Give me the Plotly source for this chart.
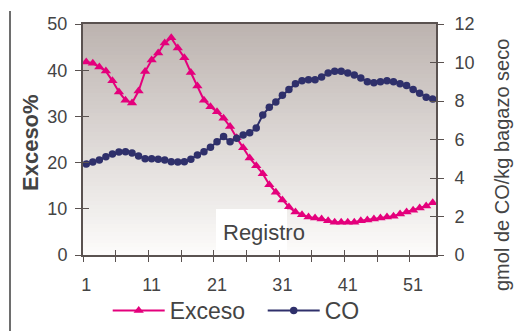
import plotly.graph_objects as go
import numpy as np

# ---------------- data ----------------
registro = list(range(1, 55))
exceso = [41.8, 41.5, 40.7, 39.8, 37.7, 35.3, 33.5, 32.9, 35.5, 39.7,
          42.2, 43.7, 45.9, 47.0, 44.8, 42.7, 39.5, 36.6, 33.5, 32.1,
          31.0, 29.6, 27.8, 25.4, 23.2, 21.0, 19.3, 17.6, 15.2, 13.6,
          11.9, 10.4, 9.3, 8.7, 8.2, 8.0, 7.8, 7.4, 7.1, 7.1,
          7.1, 7.1, 7.4, 7.6, 7.8, 8.0, 8.2, 8.4, 8.9, 9.3,
          9.7, 10.2, 10.6, 11.3]
co = [4.73, 4.83, 4.94, 5.10, 5.25, 5.35, 5.37, 5.30, 5.14, 5.00,
      5.00, 4.98, 4.94, 4.85, 4.83, 4.85, 4.98, 5.20, 5.37, 5.60,
      5.88, 6.15, 5.88, 6.07, 6.23, 6.35, 6.60, 7.27, 7.68, 7.95,
      8.30, 8.60, 8.90, 9.05, 9.10, 9.10, 9.25, 9.45, 9.55, 9.55,
      9.45, 9.35, 9.20, 9.00, 8.95, 9.00, 9.05, 9.00, 8.90, 8.80,
      8.60, 8.40, 8.20, 8.10]
x_tick_labels = [1, 11, 21, 31, 41, 51]
y_left_ticks = [0, 10, 20, 30, 40, 50]
y_right_ticks = [0, 2, 4, 6, 8, 10, 12]

# ---------------- styling ----------------
FONT = "Liberation Sans, Arial, sans-serif"
TXT = "#444444"
AX = "#5a5250"
MAG = "#E4007C"
NAVY = "#2F306B"

x_range = [0.5, len(registro) + 0.5]
sep_ticks = [0.5 + 5 * k for k in range(int(len(registro) / 5) + 1)]

fig = go.Figure()

# background gradient (drawn as a heatmap behind the data)
n = 60
y_edges = np.linspace(0, 50, n + 1)
top = np.array([189, 180, 176])
bot = np.array([252, 251, 250])
fig.add_trace(go.Heatmap(
    x=x_range, y=y_edges, z=[[i] for i in range(n)],
    colorscale=[[0, "rgb(%d,%d,%d)" % tuple(bot)], [1, "rgb(%d,%d,%d)" % tuple(top)]],
    showscale=False, hoverinfo="skip", zsmooth=False,
    xaxis="x", yaxis="y"))

fig.add_trace(go.Scatter(
    x=registro, y=exceso, name="Exceso", mode="lines+markers",
    line=dict(color=MAG, width=2),
    marker=dict(symbol="triangle-up", size=9, color=MAG),
    xaxis="x", yaxis="y"))

fig.add_trace(go.Scatter(
    x=registro, y=co, name="CO", mode="lines+markers",
    line=dict(color=NAVY, width=2),
    marker=dict(symbol="circle", size=7.5, color=NAVY),
    xaxis="x", yaxis="y2"))

# empty helpers so overlay axes (inside halves of crossing ticks) exist
fig.add_trace(go.Scatter(x=[None], y=[None], xaxis="x2", yaxis="y3",
                         showlegend=False, hoverinfo="skip"))
fig.add_trace(go.Scatter(x=[None], y=[None], xaxis="x", yaxis="y4",
                         showlegend=False, hoverinfo="skip"))

tickfont = dict(family=FONT, size=18, color=TXT)

fig.update_layout(
    width=515, height=331,
    margin=dict(l=83, r=79, t=24, b=76, autoexpand=False),
    paper_bgcolor="white", plot_bgcolor="white",
    font=dict(family=FONT, color=TXT),
    showlegend=True,
    legend=dict(orientation="h", x=0.07, xanchor="left", y=-0.24, yanchor="middle",
                font=dict(family=FONT, size=23, color=TXT), itemwidth=52,
                entrywidth=88, entrywidthmode="pixels",
                bgcolor="rgba(0,0,0,0)"),
    xaxis=dict(range=x_range, tickmode="array", tickvals=x_tick_labels,
               ticktext=[str(v) for v in x_tick_labels], ticks="",
               showline=True, linecolor=AX, linewidth=2, mirror=True,
               showgrid=False, zeroline=False, tickfont=tickfont,
               ticklabelstandoff=12,
               minor=dict(tickmode="array", tickvals=sep_ticks, ticks="outside",
                          ticklen=5, tickwidth=1, tickcolor=AX, showgrid=False)),
    xaxis2=dict(range=x_range, overlaying="x", anchor="y", side="bottom",
                tickmode="array", tickvals=sep_ticks, ticks="inside", ticklen=5,
                tickwidth=1, tickcolor=AX, showticklabels=False, showline=False,
                showgrid=False, zeroline=False),
    yaxis=dict(range=[0, 50], tickmode="array", tickvals=y_left_ticks,
               ticks="outside", ticklen=6, tickwidth=1, tickcolor=AX,
               showline=True, linecolor=AX, linewidth=2, showgrid=False,
               zeroline=False, tickfont=tickfont, ticklabelstandoff=4),
    yaxis2=dict(range=[0, 12], tickmode="array", tickvals=y_right_ticks,
                overlaying="y", side="right", anchor="x",
                ticks="outside", ticklen=6, tickwidth=1, tickcolor=AX,
                showline=True, linecolor=AX, linewidth=2, showgrid=False,
                zeroline=False, tickfont=tickfont, ticklabelstandoff=7),
    yaxis3=dict(range=[0, 50], overlaying="y", side="left", anchor="x2",
                tickmode="array", tickvals=y_left_ticks, ticks="inside",
                ticklen=6, tickwidth=1, tickcolor=AX, showticklabels=False,
                showline=False, showgrid=False, zeroline=False),
    yaxis4=dict(range=[0, 12], overlaying="y", side="right", anchor="x",
                tickmode="array", tickvals=y_right_ticks, ticks="inside",
                ticklen=6, tickwidth=1, tickcolor=AX, showticklabels=False,
                showline=False, showgrid=False, zeroline=False),
)

# "Registro" label on a white box inside the plot
fig.add_shape(type="rect", xref="paper", yref="paper",
              x0=(216 - 83) / 353, x1=(287 - 83) / 353,
              y0=(255 - 250) / 231, y1=(255 - 209) / 231,
              fillcolor="white", line=dict(width=0), layer="above")
fig.add_annotation(text="Registro", xref="paper", yref="paper",
                   x=(221 - 83) / 353, xanchor="left", y=(255 - 232) / 231,
                   yanchor="middle", showarrow=False,
                   font=dict(family=FONT, size=22, color=TXT))

# axis titles
fig.add_annotation(text="<b>Exceso%</b>", xref="paper", yref="paper",
                   x=(30 - 83) / 353, y=(255 - 142) / 231, textangle=-90,
                   xanchor="center", yanchor="middle", showarrow=False,
                   font=dict(family=FONT, size=22, color=TXT))
fig.add_annotation(text="gmol de CO/kg bagazo seco", xref="paper", yref="paper",
                   x=(502 - 83) / 353, y=(255 - 165) / 231, textangle=-90,
                   xanchor="center", yanchor="middle", showarrow=False,
                   font=dict(family=FONT, size=20, color=TXT))

# frame line on the left edge of the chart area
fig.add_shape(type="line", xref="paper", yref="paper",
              x0=(10 - 83) / 353, x1=(10 - 83) / 353,
              y0=(255 - 11) / 231, y1=(255 - 335) / 231,
              line=dict(color="#6e6e6e", width=2))

fig.write_html("out.html")
